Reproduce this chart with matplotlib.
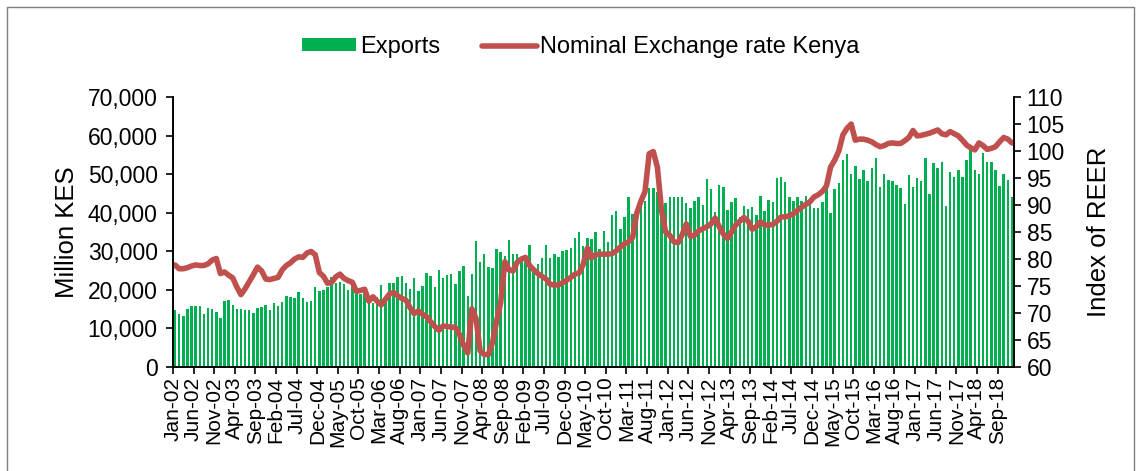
import matplotlib
matplotlib.use("Agg")
import matplotlib.pyplot as plt
import numpy as np
import pandas as pd

plt.rcParams['font.family'] = ['Liberation Sans', 'DejaVu Sans']

# monthly data Jan-2002 .. Dec-2018
months = pd.date_range("2002-01-01", periods=204, freq="MS")

# exports, thousand million KES
exports_k = [
    14.7, 13.7, 13.2, 15.0, 15.9, 15.8, 15.8, 13.7, 15.4, 15.0, 14.2, 12.6,
    17.1, 17.4, 16.2, 15.1, 15.0, 14.9, 14.7, 13.9, 15.3, 15.6, 16.0, 14.8,
    16.7, 15.8, 16.9, 18.4, 18.1, 17.8, 19.4, 17.8, 16.9, 17.2, 20.8, 19.7,
    20.0, 20.7, 23.4, 21.9, 22.1, 21.5, 20.0, 20.8, 19.5, 18.9, 20.4, 17.5,
    16.5, 18.2, 21.3, 18.2, 21.7, 21.9, 23.4, 23.6, 21.7, 20.1, 23.0, 19.8,
    21.1, 24.3, 23.7, 20.7, 25.1, 23.2, 23.8, 24.1, 21.5, 24.9, 26.3, 18.4,
    24.0, 32.7, 27.3, 29.4, 26.0, 25.6, 30.6, 29.9, 28.8, 32.8, 29.3, 29.3,
    28.4, 28.9, 31.7, 25.7, 26.8, 28.3, 31.6, 28.3, 29.3, 28.6, 30.0, 30.3,
    30.8, 33.4, 34.9, 31.4, 33.4, 33.2, 35.0, 30.5, 35.3, 32.4, 39.5, 40.4,
    35.7, 39.0, 44.0, 39.6, 41.0, 44.0, 43.0, 46.5, 46.3, 45.5, 42.0, 42.4,
    44.2, 44.2, 44.2, 44.2, 42.4, 41.3, 43.0, 44.0, 42.0, 48.7, 46.2, 40.3,
    47.2, 46.8, 40.7, 42.7, 43.7, 38.8, 41.7, 41.0, 41.4, 39.4, 44.4, 40.4,
    43.3, 42.8, 49.0, 49.2, 48.0, 44.2, 43.1, 44.1, 43.0, 44.3, 43.3, 41.3,
    41.3, 42.8, 48.0, 40.0, 46.1, 47.8, 53.7, 55.1, 50.0, 52.2, 48.7, 51.0,
    48.2, 51.6, 54.2, 46.8, 50.0, 48.4, 48.1, 47.2, 46.3, 42.2, 49.7, 46.8,
    48.9, 48.1, 54.1, 44.9, 52.8, 51.7, 53.1, 41.7, 50.6, 49.2, 51.0, 49.3,
    53.6, 57.6, 51.1, 50.1, 55.4, 53.1, 53.1, 51.0, 46.9, 50.1, 48.5, 44.2,
]
exports = np.array(exports_k) * 1000

# nominal exchange rate index (REER)
reer = [
    78.9, 78.2, 78.2, 78.4, 78.7, 78.9, 78.8, 78.8, 79.1, 79.8, 80.1, 77.3,
    77.6, 77.0, 76.5, 74.8, 73.4, 74.5, 75.8, 77.1, 78.5, 77.8, 76.3, 76.2,
    76.4, 76.6, 78.0, 78.8, 79.3, 80.0, 80.4, 80.3, 81.1, 81.4, 80.8, 77.5,
    76.8, 75.5, 75.7, 76.7, 77.2, 76.4, 76.0, 75.7, 74.0, 74.2, 74.4, 72.2,
    73.0, 72.2, 71.5, 72.5, 73.5, 73.8, 73.2, 72.7, 72.4, 71.0, 69.9, 70.4,
    69.8, 69.3, 68.4, 67.5, 66.8, 67.6, 67.5, 67.4, 67.3, 66.0, 64.0, 62.6,
    70.8, 69.0, 63.0, 62.3, 62.3, 64.5, 68.5, 72.0, 79.5, 78.0, 77.8, 79.4,
    80.0, 80.3, 78.8, 78.0, 77.3, 76.8, 76.3, 75.3, 75.2, 75.2, 75.6, 76.1,
    76.6, 77.2, 77.4, 79.0, 82.0, 80.2, 80.8, 80.9, 80.9, 80.9, 81.0, 81.5,
    82.2, 82.8, 83.2, 84.0, 88.5, 90.7, 92.5, 99.5, 99.9, 97.0, 89.0, 85.0,
    84.4, 83.2, 83.0, 84.5, 86.5, 84.2, 84.4, 85.2, 85.6, 86.0, 86.5, 87.6,
    86.0, 84.6, 83.8, 85.0, 86.3, 87.0, 87.7, 87.0, 85.5, 86.0, 86.9, 86.3,
    86.3, 86.4, 87.0, 87.8, 87.8, 88.0, 88.4, 89.0, 89.6, 90.1, 90.6, 91.5,
    91.9, 92.5, 93.5, 97.0, 98.3, 100.0, 103.0, 104.2, 105.0, 102.0, 102.2, 102.2,
    102.0, 101.7, 101.2, 100.8, 101.0, 101.4, 101.5, 101.4, 101.4, 101.9, 102.5, 103.8,
    102.8, 102.9, 103.1, 103.3, 103.6, 103.9, 103.2, 103.0, 103.6, 103.2, 102.8, 102.0,
    101.1, 100.6, 100.2, 101.5, 101.0, 100.3, 100.5, 100.8, 101.7, 102.5, 102.2, 101.5,
]

labels = [d.strftime("%b-%y") for d in months]
x = np.arange(len(months))

GREEN = "#00B050"
RED = "#C0504D"

fig = plt.figure(figsize=(11.41, 4.71), dpi=100)
ax = fig.add_axes([0.1516, 0.2208, 0.7371, 0.5732])
ax2 = ax.twinx()

ax.bar(x, exports, width=0.6, color=GREEN, label="Exports")
ax2.plot(x, reer, color=RED, lw=4, label="Nominal Exchange rate Kenya",
         solid_capstyle="round", solid_joinstyle="round")

ax.set_xlim(-0.5, len(x) - 0.5)
ax.set_ylim(0, 70000)
ax.set_yticks(np.arange(0, 70001, 10000))
ax.set_yticklabels([f"{v:,}" for v in range(0, 70001, 10000)])
ax2.set_ylim(60, 110)
ax2.set_yticks(np.arange(60, 111, 5))

ticks = x[::5]
ax.set_xticks(ticks - 0.5)
ax.set_xticklabels([labels[i] for i in ticks], rotation=90, fontsize=15)
ax.tick_params(axis="x", length=5, width=1.2, pad=2)
ax.tick_params(axis="y", labelsize=16.5, length=5, width=1.2, pad=6)
ax2.tick_params(axis="y", labelsize=16.5, length=5, width=1.2, pad=4)

for a in (ax, ax2):
    a.spines["top"].set_visible(False)
    for s in ("left", "right", "bottom"):
        a.spines[s].set_linewidth(1.2)

ax.set_ylabel("Million KES", fontsize=18.5, labelpad=6)
ax2.set_ylabel("Index of REER", fontsize=18.5, labelpad=16)

h1, l1 = ax.get_legend_handles_labels()
h2, l2 = ax2.get_legend_handles_labels()
fig.legend(h1 + h2, l1 + l2, loc="center", bbox_to_anchor=(0.509, 0.90),
           ncol=2, frameon=False, fontsize=17, handlelength=2.3,
           handleheight=0.5, columnspacing=1.8, handletextpad=0.15)

# outer frame
fig.patches.append(plt.Rectangle((0.006, -0.02), 0.988, 1.005, transform=fig.transFigure,
                                 fill=False, edgecolor="#7f7f7f", lw=1))

fig.savefig("out.png", dpi=100)
